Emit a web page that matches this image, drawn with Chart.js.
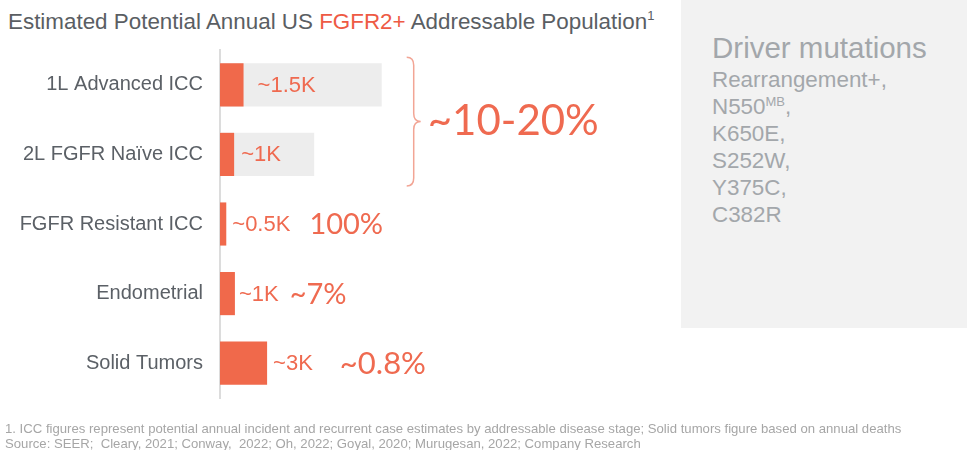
<!DOCTYPE html>
<html>
<head>
<meta charset="utf-8">
<script src="https://cdn.jsdelivr.net/npm/chart.js@4.4.0/dist/chart.umd.min.js"></script>
<style>
  body { margin: 0; background: #fff; font-family: "Liberation Sans", Arial, sans-serif; }
  #wrap { position: relative; width: 967px; height: 450px; overflow: hidden; }
  #box { position: absolute; left: 681px; top: 0; width: 286px; height: 328px; background: #f2f2f2; }
  #box div { position: absolute; left: 31px; color: #a3a7ab; white-space: nowrap; }
  #box .head { top: 33px; font-size: 29.5px; line-height: 29.5px; }
  #box .line { font-size: 22.4px; line-height: 27px; }
  #box sup { font-size: 13px; vertical-align: 8px; line-height: 0; }
  #title { position: absolute; left: 8px; top: 8px; font-size: 22.4px; line-height: 28px; color: #5a5e63; white-space: nowrap; }
  #title .hi { color: #ee5a44; }
  #title sup { font-size: 13px; vertical-align: 9px; line-height: 0; }
  #notes { position: absolute; left: 5px; top: 421px; font-size: 13.15px; line-height: 15px; color: #a6a6a6; white-space: nowrap; }
  canvas { position: absolute; left: 0; top: 0; }
</style>
</head>
<body>
<div id="wrap">
  <div id="box">
    <div class="head">Driver mutations</div>
    <div class="line" style="top:66px">Rearrangement+,</div>
    <div class="line" style="top:93px">N550<sup>MB</sup>,</div>
    <div class="line" style="top:120px">K650E,</div>
    <div class="line" style="top:147px">S252W,</div>
    <div class="line" style="top:174px">Y375C,</div>
    <div class="line" style="top:201px">C382R</div>
  </div>
  <div id="title">Estimated Potential Annual US <span class="hi">FGFR2+</span> Addressable Population<sup>1</sup></div>
  <canvas id="chart" width="967" height="450"></canvas>
  <div id="notes">1. ICC figures represent potential annual incident and recurrent case estimates by addressable disease stage; Solid tumors figure based on annual deaths<br>Source: SEER;&nbsp; Cleary, 2021; Conway,&nbsp; 2022; Oh, 2022; Goyal, 2020; Murugesan, 2022; Company Research</div>
</div>
<script>
// population in thousands
const categories = ['1L Advanced ICC', '2L FGFR Naïve ICC', 'FGFR Resistant ICC', 'Endometrial', 'Solid Tumors'];
const addressable = [1.5, 0.9, 0.4, 0.95, 3.0];
const totalPopulation = [10.3, 6.0, null, null, null];
const valueLabels = ['~1.5K', '~1K', '~0.5K', '~1K', '~3K'];
const shareLabels = ['', '', '100%', '~7%', '~0.8%'];
const iccShare = '~10-20%';

const orange = '#f0694b';
const textOrange = '#ef6a50';

const notesPlugin = {
    id: 'notes',
    afterDatasetsDraw(chart, args, opts) {
        const ctx = chart.ctx;
        const bars = chart.getDatasetMeta(0).data;
        const grey = chart.getDatasetMeta(1).data;
        ctx.save();
        ctx.textBaseline = 'middle';
        ctx.textAlign = 'left';

        bars.forEach((bar, i) => {
            ctx.font = '22px "Liberation Sans", Arial, sans-serif';
            ctx.fillStyle = textOrange;
            const x = bar.x + opts.labelGap[i];
            ctx.fillText(valueLabels[i], x, bar.y + 1);
            if (shareLabels[i]) {
                const w = ctx.measureText(valueLabels[i]).width;
                ctx.font = opts.shareSize[i] + 'px Lato, sans-serif';
                ctx.fillText(shareLabels[i], x + w + opts.shareGap[i], bar.y + 1);
            }
        });

        // brace around the two ICC rows
        const right = Math.max(grey[0].x, grey[1].x);
        const xTip = right + 39, xMid = xTip - 7, xEnd = xTip - 14;
        const top = bars[0].y - bars[0].height / 2 - 6;
        const bottom = bars[1].y + bars[1].height / 2 + 10;
        const mid = (top + bottom) / 2;
        ctx.strokeStyle = '#f2a595';
        ctx.lineWidth = 1.5;
        ctx.beginPath();
        ctx.moveTo(xEnd, top);
        ctx.quadraticCurveTo(xMid, top, xMid, top + 8);
        ctx.lineTo(xMid, mid - 8);
        ctx.quadraticCurveTo(xMid, mid, xTip, mid);
        ctx.quadraticCurveTo(xMid, mid, xMid, mid + 8);
        ctx.lineTo(xMid, bottom - 8);
        ctx.quadraticCurveTo(xMid, bottom, xEnd, bottom);
        ctx.stroke();

        ctx.font = '42px Lato, sans-serif';
        ctx.fillStyle = textOrange;
        ctx.fillText(iccShare, xTip + 7, mid);
        ctx.restore();
    }
};

new Chart(document.getElementById('chart'), {
    type: 'bar',
    data: {
        labels: categories,
        datasets: [{
            label: 'Addressable',
            data: addressable,
            backgroundColor: orange,
            grouped: false,
            order: 0,
            barPercentage: 0.62,
            categoryPercentage: 1
        }, {
            label: 'Total',
            data: totalPopulation,
            backgroundColor: '#ededed',
            grouped: false,
            order: 1,
            barPercentage: 0.62,
            categoryPercentage: 1
        }]
    },
    options: {
        indexAxis: 'y',
        responsive: false,
        animation: false,
        layout: { padding: { left: 0, top: 50, bottom: 52, right: 276 } },
        scales: {
            x: { display: false, min: 0, max: 30 },
            y: {
                grid: { display: false, drawTicks: false },
                border: { display: true, color: '#dcdcdc', width: 2 },
                ticks: {
                    padding: 17,
                    color: '#5b6066',
                    font: { family: '"Liberation Sans", Arial, sans-serif', size: 20 }
                },
                afterFit(scale) { scale.width = 220; }
            }
        },
        plugins: {
            legend: { display: false },
            tooltip: { enabled: false },
            notes: {
                labelGap: [14, 7, 6, 4, 6],
                shareGap: [0, 0, 19, 11, 27],
                shareSize: [0, 0, 29, 29, 31]
            }
        }
    },
    plugins: [notesPlugin]
});
</script>
</body>
</html>
